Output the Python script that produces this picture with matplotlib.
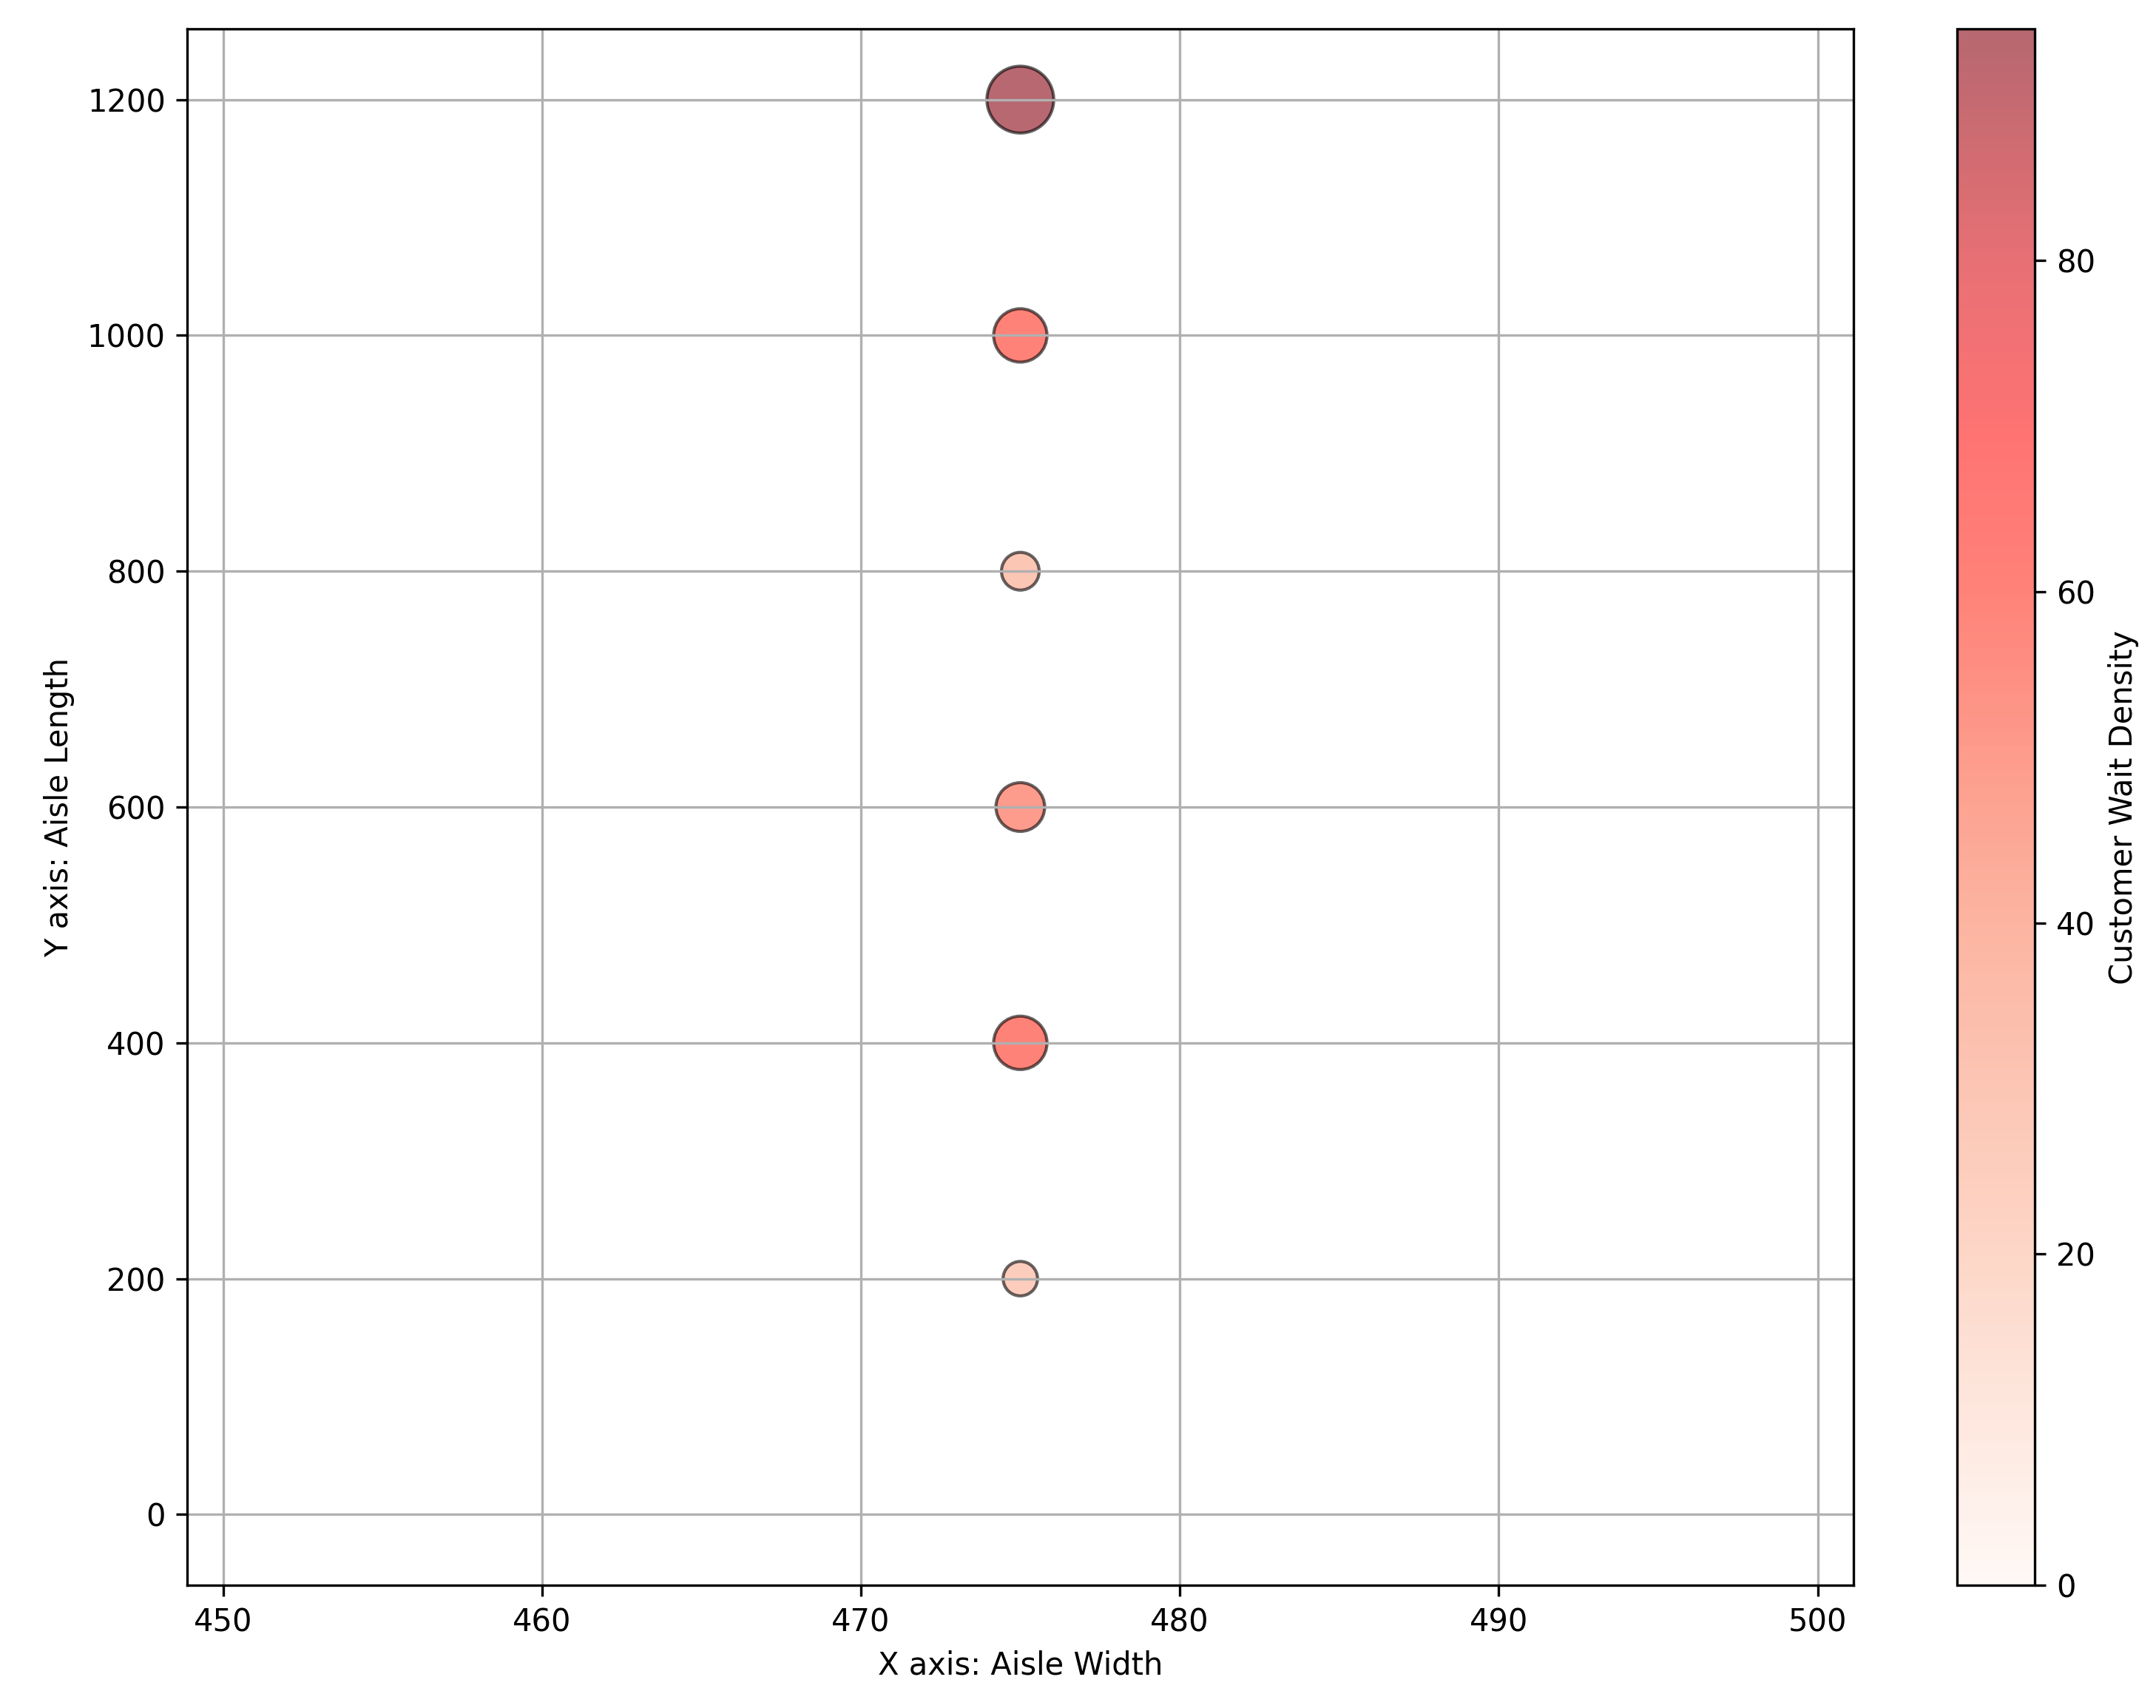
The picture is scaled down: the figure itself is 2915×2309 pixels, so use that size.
import matplotlib
matplotlib.use("Agg")
import matplotlib.pyplot as plt
from matplotlib.colors import LinearSegmentedColormap
import numpy as np

# data
aisle_width = [475, 475, 475, 475, 475, 475, 475]
aisle_length = [0, 200, 400, 600, 800, 1000, 1200]
wait_density = [0, 25, 60, 50, 30, 60, 94]

# light peach -> bright red -> dark red, drawn at alpha 0.6
wait_cmap = LinearSegmentedColormap.from_list("wait", [
    (0.00, "#fff5f0"),
    (0.21, "#fcbca3"),
    (0.43, "#fa8261"),
    (0.64, "#ff2f1e"),
    (0.74, "#ff1616"),
    (0.85, "#d91117"),
    (1.00, "#870311"),
])

fig = plt.figure(figsize=(2915 / 300, 2309 / 300), dpi=300)
ax = fig.add_axes([0.0868, 0.0719, 0.7729, 0.9112])
cax = fig.add_axes([0.9077, 0.0719, 0.0360, 0.9112])

sc = ax.scatter(aisle_width, aisle_length,
                s=np.array(wait_density) * 5,
                c=wait_density, cmap=wait_cmap, alpha=0.6,
                edgecolors="k", linewidths=1)

ax.set_xlabel("X axis: Aisle Width")
ax.set_ylabel("Y axis: Aisle Length")
ax.grid(True)

cbar = fig.colorbar(sc, cax=cax)
cbar.set_label("Customer Wait Density")

fig.savefig("out.png", dpi=300)
